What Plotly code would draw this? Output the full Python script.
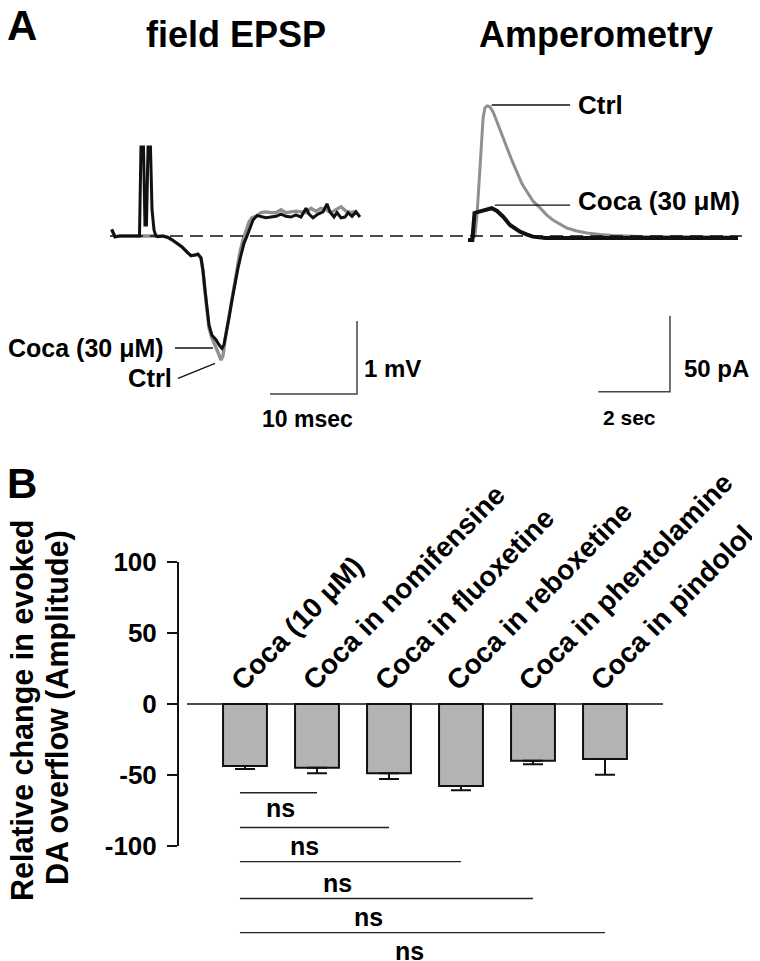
import plotly.graph_objects as go

PAGE_W, PAGE_H = 760, 961
OFF = 8  # default page margin around the figure
W, H = PAGE_W - OFF, PAGE_H - OFF
FONT = "Liberation Sans, Arial, Helvetica, sans-serif"

# ---------------- Panel A (left): field EPSP, time (ms) vs voltage (mV)
epsp_coca_t = [-3.20, -2.82, -2.24, -1.09, 0.00, 0.17, 0.46, 0.63, 0.80, 0.98, 1.26, 1.44, 1.67, 1.90,
               2.13, 2.70, 3.28, 3.74, 4.31, 4.89, 5.46, 5.92, 6.38, 6.72, 7.07, 7.30, 7.53, 7.76, 7.99,
               8.33, 8.79, 9.14, 9.48, 9.71, 9.94, 10.29, 10.63, 10.98, 11.32, 11.67, 12.01, 12.36,
               12.70, 13.05, 13.51, 13.97, 14.54, 15.11, 15.69, 16.26, 16.84, 17.41, 17.99, 18.56,
               19.14, 19.48, 19.94, 20.52, 21.09, 21.55, 21.90, 22.36, 22.70, 23.16, 23.62, 23.97,
               24.43, 24.89, 25.34]
epsp_coca_v = [0.09, -0.01, 0.00, 0.00, 0.00, 1.22, 1.22, 0.15, 0.15, 1.22, 1.22, 0.36, 0.08, 0.00,
               -0.01, 0.00, -0.02, -0.05, -0.10, -0.15, -0.22, -0.27, -0.26, -0.25, -0.30, -0.47,
               -0.74, -1.01, -1.22, -1.36, -1.42, -1.49, -1.54, -1.49, -1.36, -1.12, -0.88, -0.64,
               -0.44, -0.26, -0.10, 0.00, 0.11, 0.22, 0.28, 0.27, 0.25, 0.26, 0.27, 0.30, 0.27, 0.26,
               0.29, 0.26, 0.38, 0.30, 0.25, 0.30, 0.33, 0.44, 0.33, 0.26, 0.32, 0.25, 0.26, 0.32,
               0.27, 0.33, 0.26]
epsp_ctrl_t = [-3.20, -2.82, -2.24, -1.09, 0.00, 1.90, 2.13, 2.70, 3.28, 3.74, 4.31, 4.89, 5.46, 5.92,
               6.38, 6.72, 7.07, 7.30, 7.53, 7.76, 7.99, 8.33, 8.68, 9.02, 9.37, 9.60, 9.83, 10.17,
               10.52, 10.86, 11.21, 11.55, 11.90, 12.24, 12.59, 12.93, 13.39, 13.97, 14.54, 15.11,
               15.69, 16.26, 16.84, 17.41, 17.99, 18.56, 19.14, 19.71, 20.29, 20.86, 21.44, 22.01,
               22.59, 23.16, 23.74, 24.31, 24.89]
epsp_ctrl_v = [0.09, -0.01, 0.00, 0.00, 0.00, 0.00, -0.01, 0.00, -0.02, -0.05, -0.10, -0.15, -0.22,
               -0.27, -0.26, -0.25, -0.30, -0.49, -0.77, -1.04, -1.26, -1.40, -1.49, -1.59, -1.70,
               -1.64, -1.42, -1.18, -0.90, -0.67, -0.44, -0.22, -0.05, 0.08, 0.19, 0.25, 0.27, 0.32,
               0.33, 0.32, 0.32, 0.36, 0.32, 0.33, 0.34, 0.33, 0.32, 0.38, 0.34, 0.38, 0.36, 0.32,
               0.36, 0.40, 0.34, 0.32, 0.34]
epsp_scale_ms = 10
epsp_scale_mv = 1

# ---------------- Panel A (right): amperometry, time (s) vs current (pA)
amp_ctrl_t = [0.00, 0.08, 0.14, 0.20, 0.25, 0.31, 0.36, 0.42, 0.50, 0.59, 0.70, 0.84, 0.98, 1.12,
              1.26, 1.40, 1.54, 1.70, 1.90, 2.09, 2.26, 2.46, 2.65, 2.93, 3.21, 3.58, 3.94, 4.69,
              5.81, 7.43]
amp_ctrl_i = [-1.0, 0.3, 14.1, 37.2, 60.2, 78.0, 84.6, 85.9, 85.3, 82.0, 75.3, 66.1, 58.2, 49.7,
              41.8, 34.5, 29.3, 23.4, 18.8, 14.1, 10.9, 7.9, 5.6, 3.6, 2.3, 1.3, 0.7, 0.0, -0.3, -0.3]
amp_coca_t = [-0.11, 0.01, 0.07, 0.17, 0.34, 0.55, 0.70, 0.87, 1.06, 1.23, 1.34, 1.54, 1.70, 2.04,
              2.46, 3.58, 4.97, 6.37, 7.43]
amp_coca_i = [-2.3, -2.3, 15.5, 16.1, 17.4, 18.6, 16.8, 13.0, 7.6, 4.6, 3.2, 1.3, -0.1, -1.0, -1.0,
              -1.3, -1.0, -1.3, -1.0]
amp_scale_s = 2
amp_scale_pa = 50

# ---------------- Panel B
categories = ["Coca (10 μM)", "Coca in nomifensine", "Coca in fluoxetine",
              "Coca in reboxetine", "Coca in phentolamine", "Coca in pindolol"]
change_mean = [-43.7, -44.9, -48.8, -57.7, -39.9, -38.7]
change_sem = [2.1, 3.9, 4.0, 3.1, 2.6, 11.1]
comparisons = [(0, 1), (0, 2), (0, 3), (0, 4), (0, 5)]
comparison_labels = ["ns", "ns", "ns", "ns", "ns"]
y_ticks = [-100, -50, 0, 50, 100]
y_tick_labels = ["-100", "-50", "0", "50", "100"]

# ---------------- layout helpers (page pixel -> paper fraction)
def fx(px):
    return (px - OFF) / W

def fy(py):
    return 1 - (py - OFF) / H

def dom_x(a, b):
    return [max(0.0, fx(a)), min(1.0, fx(b))]

def dom_y(top, bottom):
    return [max(0.0, fy(bottom)), min(1.0, fy(top))]

A1_x0, A1_ppu_x, A1_y0, A1_ppu_y = 139.5, 8.7, 236.0, 73.0        # ms, mV
A2_x0, A2_ppu_x, A2_y0, A2_ppu_y = 472.0, 35.8, 236.5, 76.0 / 50  # s, pA
B_x0, B_ppu_x, B_y0, B_ppu_y = 245.0, 72.0, 704.0, 1.42

def rng_x(a, b, x0, ppu):
    return [(a - x0) / ppu, (b - x0) / ppu]

def rng_y(top, bottom, y0, ppu):
    return [(y0 - bottom) / ppu, (y0 - top) / ppu]

BLACK = "#111111"
GRAY = "#909090"

fig = go.Figure()

# --- field EPSP traces
fig.add_trace(go.Scatter(x=epsp_ctrl_t, y=epsp_ctrl_v, mode="lines",
                         line=dict(color=GRAY, width=3.4), xaxis="x", yaxis="y"))
fig.add_trace(go.Scatter(x=epsp_coca_t, y=epsp_coca_v, mode="lines",
                         line=dict(color=BLACK, width=3), xaxis="x", yaxis="y"))
sb_t1 = 25.0
sb_v0 = -2.164
fig.add_trace(go.Scatter(x=[sb_t1 - epsp_scale_ms, sb_t1, sb_t1],
                         y=[sb_v0, sb_v0, sb_v0 + epsp_scale_mv], mode="lines",
                         line=dict(color="#444444", width=1.5), xaxis="x", yaxis="y"))

# --- amperometry traces
fig.add_trace(go.Scatter(x=amp_ctrl_t, y=amp_ctrl_i, mode="lines",
                         line=dict(color=GRAY, width=3), xaxis="x2", yaxis="y2"))
fig.add_trace(go.Scatter(x=amp_coca_t, y=amp_coca_i, mode="lines",
                         line=dict(color=BLACK, width=4), xaxis="x2", yaxis="y2"))
sb2_t1 = 5.53
sb2_i0 = -102.1
fig.add_trace(go.Scatter(x=[sb2_t1 - amp_scale_s, sb2_t1, sb2_t1],
                         y=[sb2_i0, sb2_i0, sb2_i0 + amp_scale_pa], mode="lines",
                         line=dict(color="#444444", width=1.5), xaxis="x2", yaxis="y2"))

# --- Panel B bars
xpos = list(range(len(categories)))
fig.add_trace(go.Bar(x=xpos, y=change_mean, width=0.61,
                     marker=dict(color="#b3b3b3", line=dict(color=BLACK, width=2)),
                     error_y=dict(type="data", symmetric=False, array=[0] * len(change_sem),
                                  arrayminus=change_sem, color=BLACK, thickness=2, width=10),
                     xaxis="x3", yaxis="y3"))

shapes = []
shapes.append(dict(type="line", xref="paper", yref="paper", x0=fx(110), x1=fx(742),
                   y0=fy(236), y1=fy(236), line=dict(color=BLACK, width=1.4, dash="13px,7px")))
shapes.append(dict(type="line", xref="x", yref="y", x0=4.08, x1=8.45, y0=-1.534, y1=-1.534,
                   line=dict(color=BLACK, width=1.3)))
shapes.append(dict(type="line", xref="x", yref="y", x0=4.43, x1=8.68, y0=-1.949, y1=-1.744,
                   line=dict(color=BLACK, width=1.3)))
shapes.append(dict(type="line", xref="x2", yref="y2", x0=0.55, x1=2.74, y0=86.5, y1=86.5,
                   line=dict(color=BLACK, width=1.3)))
shapes.append(dict(type="line", xref="x2", yref="y2", x0=0.64, x1=2.74, y0=20.7, y1=20.7,
                   line=dict(color=BLACK, width=1.3)))
shapes.append(dict(type="line", xref="x3 domain", yref="y3", x0=0, x1=0, y0=-100, y1=100,
                   line=dict(color=BLACK, width=2)))
shapes.append(dict(type="line", xref="x3", yref="y3", x0=-0.806, x1=5.806, y0=0, y1=0,
                   line=dict(color=BLACK, width=1.6)))
sig_levels = [-62.5, -87.0, -111.0, -137.0, -161.0]
for (a, b), lev in zip(comparisons, sig_levels):
    shapes.append(dict(type="line", xref="x3", yref="y3", x0=a - 0.07, x1=b, y0=lev, y1=lev,
                       line=dict(color="#222222", width=1.4)))

def bold(size):
    return dict(family=FONT, size=size, color="black", weight="bold")

ann = []
def add_text(text, x, y, size, xanchor="center", yanchor="middle", **kw):
    ann.append(dict(text=text, x=x, y=y, xref="paper", yref="paper", showarrow=False,
                    xanchor=xanchor, yanchor=yanchor, font=bold(size), **kw))

add_text("A", fx(OFF), fy(26), 42, xanchor="left", xshift=-3)
add_text("B", fx(OFF), fy(483), 42, xanchor="left", xshift=-3)
add_text("field EPSP", fx(236), fy(35), 36)
add_text("Amperometry", fx(596), fy(35), 36)
add_text("Coca (30 μM)", fx(166), fy(348), 25, xanchor="right")
add_text("Ctrl", fx(174), fy(378), 25.5, xanchor="right")
add_text("Ctrl", fx(576), fy(105), 26, xanchor="left")
add_text("Coca (30 μM)", fx(576), fy(201), 26, xanchor="left")
add_text("1 mV", fx(362), fy(368), 24, xanchor="left")
add_text("50 pA", fx(682), fy(368), 24, xanchor="left")
add_text("10 msec", fx(307), fy(419), 23)
add_text("2 sec", fx(629), fy(418), 21)
add_text("Relative change in evoked", fx(22), fy(711), 30.5, textangle=-90)
add_text("DA overflow (Amplitude)", fx(57), fy(708), 30.5, textangle=-90)

for i, c in enumerate(categories):
    ann.append(dict(text=c, x=i, y=0, xref="x3", yref="y3", showarrow=False,
                    xanchor="left", yanchor="bottom", textangle=-45.5, xshift=-23, yshift=5,
                    font=bold(28)))
ns_x = [0.49, 0.82, 1.28, 1.72, 2.29]
ns_y = [-73.0, -99.7, -125.8, -149.8, -173.7]
for t, xx, yy in zip(comparison_labels, ns_x, ns_y):
    ann.append(dict(text=t, x=xx, y=yy, xref="x3", yref="y3", showarrow=False,
                    xanchor="center", yanchor="middle", font=bold(25)))

hidden = dict(visible=False, fixedrange=True)
fig.update_layout(
    width=W, height=H, margin=dict(l=0, r=0, t=0, b=0),
    paper_bgcolor="white", plot_bgcolor="rgba(0,0,0,0)", showlegend=False,
    xaxis=dict(domain=dom_x(100, 380), range=rng_x(100, 380, A1_x0, A1_ppu_x), **hidden),
    yaxis=dict(domain=dom_y(130, 430), range=rng_y(130, 430, A1_y0, A1_ppu_y), **hidden),
    xaxis2=dict(domain=dom_x(440, 760), range=rng_x(440, 760, A2_x0, A2_ppu_x), anchor="y2", **hidden),
    yaxis2=dict(domain=dom_y(80, 430), range=rng_y(80, 430, A2_y0, A2_ppu_y), anchor="x2", **hidden),
    xaxis3=dict(domain=dom_x(178, 700), range=rng_x(178, 700, B_x0, B_ppu_x), anchor="y3",
                showticklabels=False, showline=False, showgrid=False, zeroline=False, ticks=""),
    yaxis3=dict(domain=dom_y(540, 961), range=rng_y(540, 961, B_y0, B_ppu_y), anchor="x3",
                tickmode="array", tickvals=y_ticks, ticktext=y_tick_labels, ticks="outside",
                ticklen=10, tickwidth=2, tickcolor=BLACK, showline=False, showgrid=False,
                zeroline=False, tickfont=bold(26), ticklabelstandoff=5),
    shapes=shapes, annotations=ann,
)

fig.write_html("out.html")
